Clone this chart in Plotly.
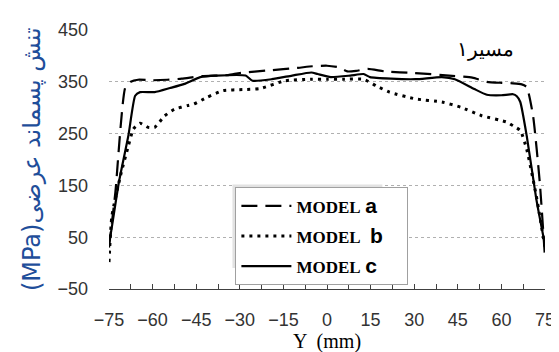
import plotly.graph_objects as go

# ---- data ----
y_a = [-75, -72.8, -69.4, -67.5, -65, -60, -55, -50, -43, -34, -30, -20, -10, -5, 0,
       4, 7, 10, 14, 20, 30, 42, 50, 55, 60, 64, 67, 68.7, 70.9, 73.2, 75]
s_a = [30, 137, 339, 350, 354, 353, 354, 356, 361, 363, 367, 372, 377, 380, 381,
       378, 370, 371, 375, 370, 367, 362, 358, 350, 348, 347, 345, 340, 284, 156, 10]

y_b = [-75, -74, -71, -68.3, -66.6, -64.3, -61.5, -59.3, -55.9, -52.5, -48, -45.8, -41.3,
       -35.7, -29, -23, -14.4, -5.4, 0, 6, 12.6, 17, 21.5, 30.4, 39.5, 46, 53, 62, 64,
       66.5, 68.7, 72, 75]
s_b = [2, 91, 170, 227, 259, 270, 262, 262, 284, 297, 304, 307, 320,
       333, 335, 337, 352, 355, 355, 355, 355, 342, 330, 317, 311, 301, 285, 272, 265,
       256, 220, 130, 30]

y_c = [-75, -74.5, -71.6, -68.3, -66, -64.3, -59.3, -54, -49, -43.6, -38, -28, -25.6, -19, -12,
       -5.4, -3.2, 1.3, 8, 12.6, 14.8, 22, 30.4, 39.5, 44, 50.7, 55, 60, 64, 65.3, 66.5,
       68.7, 72, 75]
s_c = [40, 53, 156, 247, 323, 330, 330, 338, 346, 359, 362, 362, 352, 355, 362,
       368, 365, 359, 362, 365, 359, 356, 355, 359, 355, 336, 325, 324, 326, 322, 311,
       246, 124, 35]

x_ticks = [-75, -60, -45, -30, -15, 0, 15, 30, 45, 60, 75]
y_ticks = [-50, 50, 150, 250, 350, 450]

def leg(letter, gap=" "):
    return ("<span style='font-family:Liberation Serif;font-size:17px'><b>MODEL</b></span>" + gap +
            "<span style='font-family:Liberation Sans;font-size:21px'><b>" + letter + "</b></span>"
            + "&nbsp;" * 4)

names = [leg("a"), leg("b", "  "), leg("c")]

fig = go.Figure()
fig.add_trace(go.Scatter(x=y_a, y=s_a, mode="lines", name=names[0], legendgroup="a",
                         line=dict(color="black", width=2.2, dash="16px,8px", shape="spline", smoothing=0.5)))
fig.add_trace(go.Scatter(x=y_b, y=s_b, mode="lines", name=names[1], legendgroup="b",
                         line=dict(color="black", width=3, dash="3px,5px", shape="spline", smoothing=0.5)))
fig.add_trace(go.Scatter(x=y_c, y=s_c, mode="lines", name=names[2], legendgroup="c",
                         line=dict(color="black", width=2.2, shape="spline", smoothing=0.5)))

L, T, PW, PH = 101, 21, 445, 260

def px(xp):
    return (xp - L) / PW

def py(yp):
    return (T + PH - yp) / PH

fig.update_layout(
    width=559, height=352,
    margin=dict(l=L, r=559 - L - PW, t=T, b=352 - T - PH),
    plot_bgcolor="white", paper_bgcolor="white",
    font=dict(family="Liberation Sans", size=18, color="#333333"),
    xaxis=dict(range=[-75, 75], tickvals=x_ticks, ticks="inside", ticklen=5,
               tickcolor="#404040", showline=True, linecolor="#404040", linewidth=1,
               showgrid=False, zeroline=False, ticklabelstandoff=14,
               tickfont=dict(size=18),
               minor=dict(dtick=7.5, tick0=-75, ticks="inside", ticklen=5, tickcolor="#404040"),
               title=dict(text="Y  (mm)", font=dict(family="Liberation Serif", size=20, color="black"),
                          standoff=0)),
    yaxis=dict(range=[-50, 450], tickvals=y_ticks, ticks="", showline=False,
               showgrid=True, gridcolor="#b0b0b0", griddash="dot", gridwidth=1,
               zeroline=False, ticklabelstandoff=20, tickfont=dict(size=18)),
    yaxis2=dict(range=[-50, 450], overlaying="y", anchor="free", position=0.5,
                showline=True, linecolor="#808080", linewidth=1, ticks="outside",
                ticklen=4, tickcolor="#808080", dtick=50, tick0=-50,
                showticklabels=False, showgrid=False, zeroline=False),
    legend=dict(x=px(230), y=py(179), xanchor="left", yanchor="top",
                bgcolor="white", bordercolor="#a0a0a0", borderwidth=1,
                font=dict(family="Liberation Sans", size=17, color="black"),
                tracegroupgap=5, itemwidth=50),
    showlegend=True,
)

# soft shadow peeking out on the top/left of the legend box
fig.add_shape(type="rect", xref="paper", yref="paper",
              x0=px(227), x1=px(380), y0=py(260), y1=py(176),
              fillcolor="#e2e2e2", line=dict(width=0), layer="above")

# y-axis title (rotated), placed at the reference's position
fig.add_annotation(text="(MPa)تنش پسماند عرضی", x=px(22), y=0.5,
                   xref="paper", yref="paper", xanchor="center", yanchor="middle",
                   textangle=-90, showarrow=False,
                   font=dict(family="DejaVu Sans", size=24, color="#1f4e9a"))

fig.add_annotation(text="مسیر۱", x=px(485), y=py(40), xref="paper", yref="paper",
                   xanchor="center", yanchor="middle",
                   showarrow=False, font=dict(family="DejaVu Serif", size=20, color="black"))

fig.write_html("out.html")
